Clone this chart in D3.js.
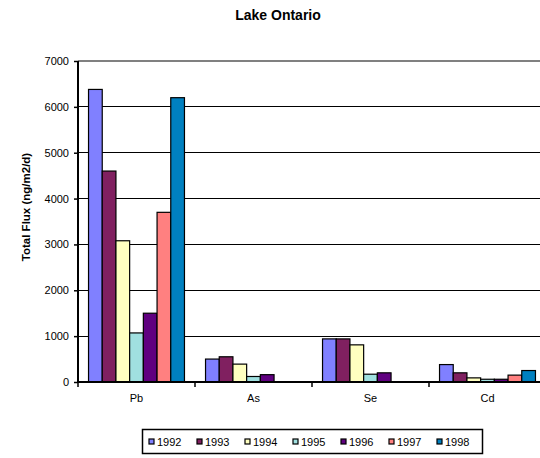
<!DOCTYPE html>
<html>
<head>
<meta charset="utf-8">
<script src="https://cdn.jsdelivr.net/npm/d3@7"></script>
<style>
  html, body { margin: 0; padding: 0; background: #fff; }
  svg { display: block; font-family: "Liberation Sans", Arial, sans-serif; }
</style>
</head>
<body>
<svg id="chart" width="540" height="458"></svg>
<script>
const categories = ["Pb", "As", "Se", "Cd"];
const years = ["1992", "1993", "1994", "1995", "1996", "1997", "1998"];
const colors = ["#8080FF", "#802060", "#FFFFC0", "#A0E0E0", "#600080", "#FF8080", "#0080C0"];
const v1992 = [6380, 500, 940, 380];
const v1993 = [4600, 550, 940, 200];
const v1994 = [3080, 390, 810, 90];
const v1995 = [1070, 120, 170, 60];
const v1996 = [1500, 160, 200, 60];
const v1997 = [3700, 0, 0, 150];
const v1998 = [6200, 0, 0, 250];
const yTicks = [0, 1000, 2000, 3000, 4000, 5000, 6000, 7000];

const series = [v1992, v1993, v1994, v1995, v1996, v1997, v1998];

const svg = d3.select("#chart");
const L = 78, R = 546, T = 61, B = 382;

const y = d3.scaleLinear().domain([0, 7000]).range([B, T]);
const x0 = d3.scaleBand().domain(categories).range([L, R]).paddingInner(0.18).paddingOuter(0.09);
const x1 = d3.scaleBand().domain(years).range([0, x0.bandwidth()]);
const step = x0.step();

// Title
svg.append("text").attr("x", 278).attr("y", 20).attr("text-anchor", "middle")
  .attr("font-size", 14).attr("font-weight", "bold").text("Lake Ontario");

// Gridlines
svg.append("g").selectAll("line").data(yTicks.filter(t => t > 0 && t < 7000)).join("line")
  .attr("x1", L).attr("x2", 540).attr("y1", d => y(d)).attr("y2", d => y(d))
  .attr("stroke", "#000").attr("stroke-width", 1).attr("shape-rendering", "crispEdges");
// top border
svg.append("line").attr("x1", L).attr("x2", 540).attr("y1", y(7000)).attr("y2", y(7000))
  .attr("stroke", "#808080").attr("stroke-width", 2);

// Bars
const groups = svg.append("g").selectAll("g").data(categories).join("g")
  .attr("transform", d => `translate(${x0(d)},0)`);
groups.selectAll("rect").data((c, ci) => years.map((yr, si) => ({yr, si, v: series[si][ci]})).filter(d => d.v > 0))
  .join("rect")
  .attr("x", d => x1(d.yr)).attr("width", x1.bandwidth())
  .attr("y", d => y(d.v)).attr("height", d => y(0) - y(d.v))
  .attr("fill", d => colors[d.si]).attr("stroke", "#000").attr("stroke-width", 1.2);

// Y axis
const yAxis = d3.axisLeft(y).tickValues(yTicks).tickSize(4).tickPadding(5).tickFormat(d3.format("d"));
const gy = svg.append("g").attr("transform", `translate(${L},0)`).call(yAxis);
gy.select(".domain").remove();
gy.selectAll(".tick line").attr("stroke", "#000").attr("stroke-width", 1.5);
gy.selectAll(".tick text").attr("font-size", 11).attr("font-family", "Liberation Sans, Arial, sans-serif").attr("fill", "#000");
svg.append("line").attr("x1", L).attr("x2", L).attr("y1", T).attr("y2", B + 1)
  .attr("stroke", "#000").attr("stroke-width", 2);

// X axis
const gx = svg.append("g").attr("transform", `translate(0,${B})`)
  .call(d3.axisBottom(x0).tickSize(0).tickPadding(12));
gx.select(".domain").remove();
gx.selectAll(".tick text").attr("font-size", 11).attr("font-family", "Liberation Sans, Arial, sans-serif").attr("fill", "#000");
svg.append("line").attr("x1", L - 1).attr("x2", 540).attr("y1", B).attr("y2", B)
  .attr("stroke", "#000").attr("stroke-width", 2);
svg.append("g").selectAll("line").data(categories).join("line")
  .attr("x1", d => x0(d) - step * 0.09).attr("x2", d => x0(d) - step * 0.09)
  .attr("y1", B).attr("y2", B + 5).attr("stroke", "#000").attr("stroke-width", 1.5);

// Y label
svg.append("text").attr("transform", "translate(30,207) rotate(-90)")
  .attr("text-anchor", "middle").attr("font-size", 11.5).attr("font-weight", "bold")
  .text("Total Flux (ng/m2/d)");

// Legend
const lg = svg.append("g");
lg.append("rect").attr("x", 142.5).attr("y", 429.5).attr("width", 340).attr("height", 24)
  .attr("fill", "#fff").attr("stroke", "#000").attr("stroke-width", 1.5);
const items = lg.selectAll("g").data(years).join("g")
  .attr("transform", (d, i) => `translate(${149 + i * 48},442)`);
items.append("rect").attr("x", 0).attr("y", -3).attr("width", 5).attr("height", 5)
  .attr("fill", (d, i) => colors[i]).attr("stroke", "#000").attr("stroke-width", 1.2);
items.append("text").attr("x", 8).attr("y", 4).attr("font-size", 11).text(d => d);
</script>
</body>
</html>
